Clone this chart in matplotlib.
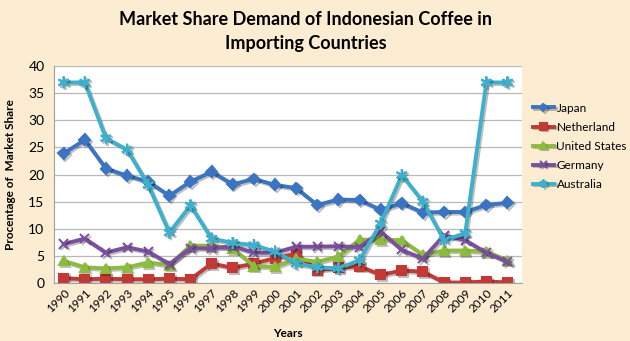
import matplotlib.pyplot as plt
import matplotlib.patheffects as pe

years = [str(y) for y in range(1990, 2012)]

japan = [23.9, 26.4, 21.1, 19.8, 18.7, 16.1, 18.7, 20.5, 18.2, 19.2, 18.1, 17.5,
         14.4, 15.4, 15.3, 13.5, 14.7, 13.0, 13.1, 13.1, 14.4, 14.8]
netherland = [0.9, 0.7, 0.8, 0.7, 0.7, 0.8, 0.7, 3.6, 2.8, 3.6, 4.6, 5.4,
              2.4, 2.8, 3.1, 1.5, 2.3, 2.1, 0.1, 0.1, 0.3, 0.1]
united_states = [4.1, 2.9, 2.7, 2.9, 3.8, 3.3, 6.9, 6.9, 6.4, 3.1, 3.0, 4.5,
                 3.9, 4.9, 8.0, 8.0, 7.9, 5.2, 6.0, 6.0, 5.8, 4.2]
germany = [7.2, 8.2, 5.6, 6.6, 5.8, 3.5, 6.4, 6.4, 6.8, 5.6, 5.6, 6.7,
           6.7, 6.8, 6.6, 9.5, 6.1, 4.5, 8.8, 7.9, 5.6, 3.9]
australia = [37.0, 37.0, 26.7, 24.6, 18.1, 9.3, 14.3, 8.2, 7.4, 7.0, 5.8, 3.6,
             2.9, 2.7, 4.2, 11.0, 19.9, 15.0, 7.9, 9.2, 37.0, 37.0]

series = [
    ('Japan', japan, '#3a74c2', 'D', 5.5),
    ('Netherland', netherland, '#c23a36', 's', 6.5),
    ('United States', united_states, '#8cbb3e', '^', 6.5),
    ('Germany', germany, '#7a509e', 'x', 6.5),
    ('Australia', australia, '#3fb0cc', (6, 2, 0), 8.5),
]

plt.rcParams['font.family'] = ['Lato', 'DejaVu Sans']

fig = plt.figure(figsize=(6.3, 3.41), dpi=100)
fig.patch.set_facecolor('#fbecd2')
ax = fig.add_axes([0.086, 0.170, 0.743, 0.636])
ax.set_facecolor('white')

x = list(range(len(years)))
shadow = [pe.SimpleLineShadow(offset=(1.2, -1.2), alpha=0.25), pe.Normal()]
for name, vals, color, marker, ms in series:
    ax.plot(x, vals, color=color, lw=2.8, marker=marker, markersize=ms,
            markeredgecolor=color, markeredgewidth=1.5, label=name,
            path_effects=shadow)

ax.set_ylim(0, 40)
ax.set_yticks(range(0, 41, 5))
ax.set_xlim(-0.45, 21.7)
ax.set_xticks(x)
ax.set_xticklabels(years, rotation=45, ha='right', rotation_mode='anchor', fontsize=8.5)
ax.tick_params(axis='y', labelsize=10, length=0, pad=7)
ax.tick_params(axis='x', length=0, pad=3)
ax.yaxis.grid(True, color='#b8b8b8', lw=0.9)
ax.set_axisbelow(True)
for s in ['top', 'right']:
    ax.spines[s].set_visible(False)
ax.spines['left'].set_color('#a0a0a0')
ax.spines['bottom'].set_color('#a0a0a0')

ax.set_xlabel('Years', fontsize=8.5, fontweight='bold', labelpad=10)
ax.set_ylabel('Procentage of  Market Share', fontsize=8.5, fontweight='bold', labelpad=9)

fig.text(0.485, 0.968, 'Market Share Demand of Indonesian Coffee in\nImporting Countries',
         ha='center', va='top', fontsize=13, fontweight='bold', linespacing=1.5)

ax.legend(loc='upper left', bbox_to_anchor=(1.005, 0.87), frameon=False,
          fontsize=8.5, handlelength=1.8, labelspacing=0.68, handletextpad=0.2,
          markerscale=0.7, borderaxespad=0.3)

fig.savefig('out.png', dpi=100, facecolor=fig.get_facecolor())
